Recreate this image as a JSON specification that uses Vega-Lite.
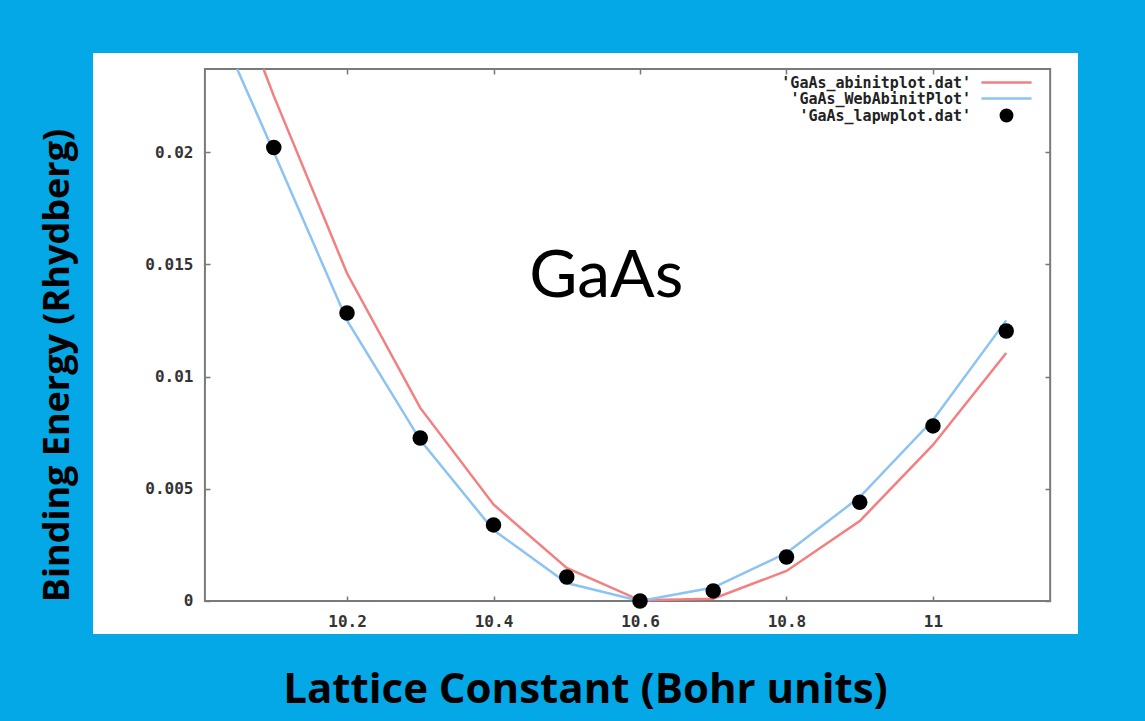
{
  "$schema": "https://vega.github.io/schema/vega-lite/v6.json",
  "width": 985,
  "height": 581,
  "autosize": {"type": "none"},
  "padding": {"left": 93, "top": 53, "right": 67, "bottom": 87},
  "background": "#05a8e6",
  "view": {"fill": "white", "stroke": null},
  "config": {
    "axis": {
      "labelFont": "DejaVu Sans Mono",
      "labelFontWeight": "bold",
      "labelFontSize": 16,
      "labelColor": "#333333",
      "tickColor": "#777777",
      "tickWidth": 1.5,
      "grid": false,
      "domain": false
    },
    "legend": {
      "labelFont": "DejaVu Sans Mono",
      "labelFontWeight": "bold",
      "labelFontSize": 15,
      "labelColor": "#222222",
      "labelLimit": 0
    }
  },
  "datasets": {
    "frame": [{"x0": 10.006, "x1": 11.16, "y0": 0, "y1": 0.0237}],
    "curves": [
      {"series": "GaAs_abinitplot.dat", "lattice": 10.086, "energy": 0.0237},
      {"series": "GaAs_abinitplot.dat", "lattice": 10.1, "energy": 0.0225},
      {"series": "GaAs_abinitplot.dat", "lattice": 10.2, "energy": 0.0146},
      {"series": "GaAs_abinitplot.dat", "lattice": 10.3, "energy": 0.0086},
      {"series": "GaAs_abinitplot.dat", "lattice": 10.4, "energy": 0.0043},
      {"series": "GaAs_abinitplot.dat", "lattice": 10.5, "energy": 0.00147},
      {"series": "GaAs_abinitplot.dat", "lattice": 10.6, "energy": 0.00003},
      {"series": "GaAs_abinitplot.dat", "lattice": 10.7, "energy": 0.0001},
      {"series": "GaAs_abinitplot.dat", "lattice": 10.8, "energy": 0.00134},
      {"series": "GaAs_abinitplot.dat", "lattice": 10.9, "energy": 0.00356},
      {"series": "GaAs_abinitplot.dat", "lattice": 11.0, "energy": 0.00695},
      {"series": "GaAs_abinitplot.dat", "lattice": 11.1, "energy": 0.01105},
      {"series": "GaAs_WebAbinitPlot", "lattice": 10.05, "energy": 0.0237},
      {"series": "GaAs_WebAbinitPlot", "lattice": 10.1, "energy": 0.0200},
      {"series": "GaAs_WebAbinitPlot", "lattice": 10.2, "energy": 0.0125},
      {"series": "GaAs_WebAbinitPlot", "lattice": 10.3, "energy": 0.00717},
      {"series": "GaAs_WebAbinitPlot", "lattice": 10.4, "energy": 0.00316},
      {"series": "GaAs_WebAbinitPlot", "lattice": 10.5, "energy": 0.0008},
      {"series": "GaAs_WebAbinitPlot", "lattice": 10.6, "energy": 0.0},
      {"series": "GaAs_WebAbinitPlot", "lattice": 10.7, "energy": 0.0006},
      {"series": "GaAs_WebAbinitPlot", "lattice": 10.8, "energy": 0.00214},
      {"series": "GaAs_WebAbinitPlot", "lattice": 10.9, "energy": 0.00463},
      {"series": "GaAs_WebAbinitPlot", "lattice": 11.0, "energy": 0.00806},
      {"series": "GaAs_WebAbinitPlot", "lattice": 11.1, "energy": 0.0125}
    ],
    "lapw": [
      {"series": "GaAs_lapwplot.dat", "lattice": 10.1, "energy": 0.0202},
      {"series": "GaAs_lapwplot.dat", "lattice": 10.2, "energy": 0.01283},
      {"series": "GaAs_lapwplot.dat", "lattice": 10.3, "energy": 0.00726},
      {"series": "GaAs_lapwplot.dat", "lattice": 10.4, "energy": 0.00339},
      {"series": "GaAs_lapwplot.dat", "lattice": 10.5, "energy": 0.00107},
      {"series": "GaAs_lapwplot.dat", "lattice": 10.6, "energy": 0.0},
      {"series": "GaAs_lapwplot.dat", "lattice": 10.7, "energy": 0.00045},
      {"series": "GaAs_lapwplot.dat", "lattice": 10.8, "energy": 0.00196},
      {"series": "GaAs_lapwplot.dat", "lattice": 10.9, "energy": 0.0044},
      {"series": "GaAs_lapwplot.dat", "lattice": 11.0, "energy": 0.0078},
      {"series": "GaAs_lapwplot.dat", "lattice": 11.1, "energy": 0.01203}
    ],
    "label": [{"text": "GaAs", "lattice": 10.554, "energy": 0.01354}]
  },
  "resolve": {"axis": {"x": "independent", "y": "independent"}},
  "layer": [
    {
      "data": {"name": "frame"},
      "mark": {"type": "rect", "fill": "transparent", "stroke": "#7a7a7a", "strokeWidth": 2},
      "encoding": {
        "x": {
          "field": "x0", "type": "quantitative",
          "scale": {"domain": [9.8532, 11.198], "nice": false, "zero": false},
          "axis": {
            "orient": "bottom", "offset": -33, "values": [10.2, 10.4, 10.6, 10.8, 11],
            "format": ".1~f", "tickSize": -5, "labelPadding": 17,
            "title": "Lattice Constant (Bohr units)",
            "titleFont": "Open Sans", "titleFontSize": 42, "titleFontWeight": "bold", "titleColor": "#000000",
            "titleX": 492, "titleY": 101, "titleAlign": "center", "titleBaseline": "alphabetic", "titleAngle": 0
          }
        },
        "x2": {"field": "x1"},
        "y": {
          "field": "y0", "type": "quantitative",
          "scale": {"domain": [-0.00147, 0.02441], "nice": false, "zero": false},
          "axis": {
            "orient": "left", "offset": -112, "values": [0, 0.005, 0.01, 0.015, 0.02],
            "format": ".3~f", "tickSize": -5, "labelPadding": 17,
            "title": "Binding Energy (Rhydberg)",
            "titleFont": "Open Sans", "titleFontSize": 36, "titleFontWeight": "bold", "titleColor": "#000000",
            "titleX": -137, "titleY": 312, "titleAlign": "center", "titleBaseline": "alphabetic", "titleAngle": -90
          }
        },
        "y2": {"field": "y1"}
      }
    },
    {
      "data": {"name": "curves"},
      "mark": {"type": "line", "strokeWidth": 2.5},
      "encoding": {
        "x": {
          "field": "lattice", "type": "quantitative",
          "scale": {"domain": [9.8532, 11.198], "nice": false, "zero": false},
          "axis": {"orient": "top", "offset": -16, "values": [10.2, 10.4, 10.6, 10.8, 11], "tickSize": -5, "labels": false, "title": null}
        },
        "y": {
          "field": "energy", "type": "quantitative",
          "scale": {"domain": [-0.00147, 0.02441], "nice": false, "zero": false},
          "axis": {"orient": "right", "offset": -28, "values": [0, 0.005, 0.01, 0.015, 0.02], "tickSize": -5, "labels": false, "title": null}
        },
        "color": {
          "field": "series", "type": "nominal",
          "scale": {"domain": ["GaAs_abinitplot.dat", "GaAs_WebAbinitPlot", "GaAs_lapwplot.dat"], "range": ["#f47f80", "#8cc3f3", "#000000"]},
          "legend": {
            "title": null, "orient": "none", "legendX": 906, "legendY": 22,
            "labelExpr": "\"'\" + datum.label + \"'\"",
            "labelAlign": "right", "labelOffset": -43, "rowPadding": -3,
            "symbolSize": 130, "symbolStrokeWidth": 2.5,
            "encode": {"symbols": {"update": {
              "stroke": {"signal": "scale('color', datum.value)"},
              "fill": {"signal": "indexof(datum.value, 'lapw') >= 0 ? '#000000' : 'transparent'"},
              "strokeWidth": {"value": 2.5},
              "opacity": {"value": 1}
            }}}
          }
        }
      }
    },
    {
      "data": {"name": "lapw"},
      "mark": {"type": "point", "filled": true, "size": 240, "opacity": 1},
      "encoding": {
        "x": {"field": "lattice", "type": "quantitative", "scale": {"domain": [9.8532, 11.198], "nice": false, "zero": false}, "axis": null},
        "y": {"field": "energy", "type": "quantitative", "scale": {"domain": [-0.00147, 0.02441], "nice": false, "zero": false}, "axis": null},
        "color": {
          "field": "series", "type": "nominal",
          "scale": {"domain": ["GaAs_abinitplot.dat", "GaAs_WebAbinitPlot", "GaAs_lapwplot.dat"], "range": ["#f47f80", "#8cc3f3", "#000000"]},
          "legend": {
            "title": null, "orient": "none", "legendX": 906, "legendY": 22,
            "labelExpr": "\"'\" + datum.label + \"'\"",
            "labelAlign": "right", "labelOffset": -43, "rowPadding": -3,
            "symbolSize": 130, "symbolStrokeWidth": 2.5,
            "encode": {"symbols": {"update": {
              "stroke": {"signal": "scale('color', datum.value)"},
              "fill": {"signal": "indexof(datum.value, 'lapw') >= 0 ? '#000000' : 'transparent'"},
              "strokeWidth": {"value": 2.5},
              "opacity": {"value": 1}
            }}}
          }
        },
        "shape": {
          "field": "series", "type": "nominal",
          "scale": {"domain": ["GaAs_abinitplot.dat", "GaAs_WebAbinitPlot", "GaAs_lapwplot.dat"], "range": ["M-4.4,0L4.4,0", "M-4.4,0L4.4,0", "circle"]},
          "legend": {
            "title": null, "orient": "none", "legendX": 906, "legendY": 22,
            "labelExpr": "\"'\" + datum.label + \"'\"",
            "labelAlign": "right", "labelOffset": -43, "rowPadding": -3,
            "symbolSize": 130, "symbolStrokeWidth": 2.5,
            "encode": {"symbols": {"update": {
              "stroke": {"signal": "scale('color', datum.value)"},
              "fill": {"signal": "indexof(datum.value, 'lapw') >= 0 ? '#000000' : 'transparent'"},
              "strokeWidth": {"value": 2.5},
              "opacity": {"value": 1}
            }}}
          }
        }
      }
    },
    {
      "data": {"name": "label"},
      "mark": {"type": "text", "font": "Lato", "fontSize": 66, "color": "#000000", "align": "center", "baseline": "alphabetic"},
      "encoding": {
        "x": {"field": "lattice", "type": "quantitative", "scale": {"domain": [9.8532, 11.198], "nice": false, "zero": false}, "axis": null},
        "y": {"field": "energy", "type": "quantitative", "scale": {"domain": [-0.00147, 0.02441], "nice": false, "zero": false}, "axis": null},
        "text": {"field": "text"}
      }
    }
  ]
}
